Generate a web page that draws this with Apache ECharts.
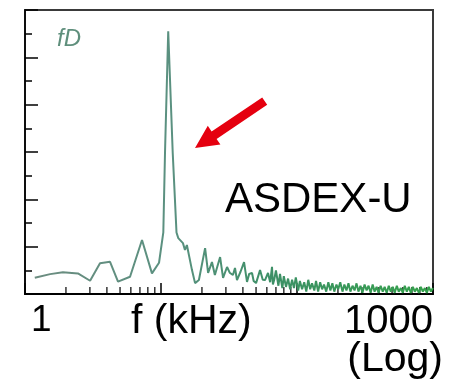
<!DOCTYPE html>
<html>
<head>
<meta charset="utf-8">
<script src="https://cdn.jsdelivr.net/npm/echarts@6/dist/echarts.min.js"></script>
<style>
html,body{margin:0;padding:0;background:#fff;}
#chart{width:455px;height:385px;}
</style>
</head>
<body>
<div id="chart"></div>
<script>
// Spectrum, frequency in kHz (log axis), amplitude in arbitrary units
const spectrumLow = [
  [1.18,0.69],[1.53,0.84],[1.90,0.92],[2.45,0.87],[3.01,0.56],[3.56,1.30],[4.22,1.36],
  [4.83,0.52],[5.92,0.73],[7.25,2.28],[8.58,0.87],[9.67,1.32],[10.4,2.6],[10.7,5.95],
  [11.3,11.1],[12.2,5.95],[13.0,2.6],[13.4,2.36],[14.5,2.15],[15.0,1.86],[15.5,2.07],
  [16.9,1.01],[17.8,0.46],[19.0,0.59],[21.1,1.94],[22.2,0.89],[23.7,1.35],[24.9,0.80],
  [27.2,1.56],[28.6,0.68],[30.6,1.14],[32.0,0.90],[33.8,0.80],[35.0,1.10],[36.2,0.59],
  [38.5,0.95],[40.8,1.35],[42.9,0.51],[44.5,0.85],[46.7,0.89],[48.0,0.55],[50.0,0.46],
  [53.5,1.01],[56.0,0.60],[58.2,0.59],[61.2,0.89],[63.5,0.50],[65.5,1.15],[66.5,0.40]
];
const spectrumTail = [
  [68,0.60],[70,1.00],[73,0.35],[75,0.85],[78,0.25],[80,0.75],[83,0.30],[86,0.65],
  [89,0.20],[92,0.60],[95,0.25],[98,0.70],[102,0.15],[105,0.55],[109,0.20],[113,0.50],
  [117,0.10],[121,0.60],[125,0.20],[129,0.45],[134,0.15],[138,0.55],[143,0.10],[148,0.50],
  [153,0.20],[158,0.40],[164,0.10],[170,0.50],[176,0.15],[182,0.45],[188,0.10],[195,0.40],
  [201,0.20],[208,0.50],[216,0.10],[223,0.40],[231,0.15],[239,0.45],[247,0.10],[256,0.35],
  [265,0.15],[274,0.45],[283,0.10],[293,0.35],[303,0.05],[314,0.40],[325,0.15],[336,0.35],
  [348,0.05],[360,0.40],[372,0.10],[385,0.30],[398,0.05],[412,0.35],[427,0.10],[441,0.30],
  [457,0.05],[473,0.35],[489,0.10],[506,0.30],[523,0.05],[542,0.35],[560,0.10],[580,0.25],
  [600,0.05],[620,0.35],[642,0.10],[664,0.30],[687,0.05],[711,0.30],[735,0.10],[761,0.25],
  [787,0.05],[814,0.30],[842,0.10],[871,0.25],[901,0.05],[932,0.30],[965,0.10],[998,0.25]
];
const minorTickValues = [2,3,4,5,6,7,8,9,20,30,40,50,60,70,80,90,200,300,400,500,600,700,800,900];
const xLabelValues = [1, 1000];

const FONT = "'Liberation Sans', Arial, sans-serif";
const chart = echarts.init(document.getElementById('chart'), null, {renderer:'canvas'});
const spectrum = spectrumLow.concat(spectrumTail);

chart.setOption({
  animation: false,
  backgroundColor: '#ffffff',
  grid: {left: 25, right: 22, top: 10, bottom: 91, show: true, borderColor: '#3a3a3a', borderWidth: 2, backgroundColor: 'transparent'},
  xAxis: {
    type: 'log', logBase: 10, min: 1, max: 1000,
    axisLine: {show: true, onZero: false, lineStyle: {color: '#000', width: 2}},
    axisTick: {show: true, inside: true, length: 11, lineStyle: {color: '#000', width: 1.5}},
    minorTick: {show: false},
    splitLine: {show: false},
    axisLabel: {
      show: true, margin: 8, color: '#000', fontFamily: FONT, fontSize: 40,
      alignMinLabel: 'left', alignMaxLabel: 'right',
      formatter: function (v) {
        if (Math.abs(v - xLabelValues[0]) < 1e-6) return '{one|1}';
        if (Math.abs(v - xLabelValues[1]) < 1e-3) return '1000';
        return '';
      },
      rich: {one: {fontSize: 37, fontFamily: FONT, color: '#000', padding: [0,0,0,6]}}
    }
  },
  yAxis: {
    type: 'value', min: 0, max: 12, interval: 2,
    axisLine: {show: true, lineStyle: {color: '#000', width: 1.5}},
    axisTick: {show: true, inside: true, length: 13, lineStyle: {color: '#000', width: 1.5}},
    minorTick: {show: true, splitNumber: 2, length: 7, lineStyle: {color: '#000', width: 1.5}},
    splitLine: {show: false},
    minorSplitLine: {show: false},
    axisLabel: {show: false}
  },
  series: [
    {
      type: 'scatter', z: 1, silent: true,
      data: minorTickValues.map(function (v) { return [v, 0]; }),
      symbol: 'rect', symbolSize: [1.5, 7], symbolOffset: [0, -3.5],
      itemStyle: {color: '#000'}
    },
    {
      type: 'line', z: 3, silent: true, showSymbol: false, smooth: false,
      data: spectrum,
      lineStyle: {
        width: 2,
        color: new echarts.graphic.LinearGradient(0, 0, 1, 0, [
          {offset: 0, color: '#6c8c80'},
          {offset: 0.35, color: '#5a9180'},
          {offset: 0.6, color: '#3d9066'},
          {offset: 1, color: '#34a24a'}
        ])
      }
    }
  ],
  graphic: [
    {type: 'text', x: 131, y: 301, style: {text: 'f (kHz)', font: '41px ' + FONT, fill: '#000', textAlign: 'left', textVerticalAlign: 'top'}},
    {type: 'text', x: 443, y: 339, style: {text: '(Log)', font: '41px ' + FONT, fill: '#000', textAlign: 'right', textVerticalAlign: 'top'}},
    {type: 'text', x: 225, y: 179, style: {text: 'ASDEX-U', font: '42px ' + FONT, fill: '#000', textAlign: 'left', textVerticalAlign: 'top'}},
    {type: 'text', x: 57, y: 27, style: {text: 'fD', font: 'italic 24px ' + FONT, fill: '#5f8f7c', textAlign: 'left', textVerticalAlign: 'top'}},
    {type: 'polygon', shape: {points: [[195,148],[220.4,144.6],[216.6,138.9],[267.2,104.8],[262.2,97.4],[211.6,131.5],[207.8,125.8]]}, style: {fill: '#e5000f'}}
  ]
});
</script>
</body>
</html>
